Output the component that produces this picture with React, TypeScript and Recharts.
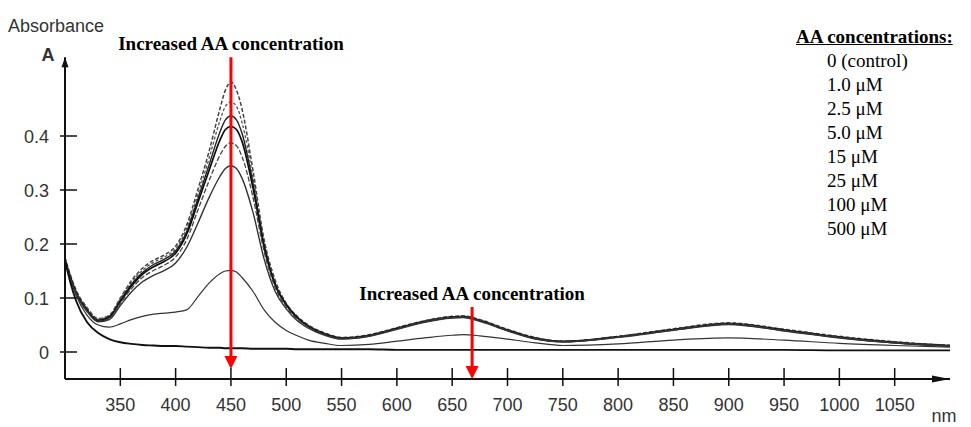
import React from "react";
import { LineChart, Line, XAxis, YAxis, ReferenceLine, Legend, Label } from "recharts";

// wavelengths (nm) shared by every spectrum
const WAVELENGTHS = [
  300, 305, 310, 320, 330, 340, 350, 360, 370, 380, 390, 400, 410, 420, 430, 440, 445, 450, 455, 460,
  470, 480, 490, 500, 510, 520, 535, 550, 575, 600, 625, 650, 660, 675, 700, 725, 750, 800, 850, 900,
  950, 1000, 1050, 1100,
];

// absorbance
const AA_0 = [
  0.175, 0.142, 0.115, 0.082, 0.062, 0.068, 0.1, 0.132, 0.155, 0.17, 0.18, 0.196, 0.235, 0.3, 0.37, 0.45, 0.485, 0.5, 0.485, 0.45,
  0.335, 0.208, 0.133, 0.09, 0.066, 0.05, 0.035, 0.027, 0.032, 0.045, 0.058, 0.066, 0.067, 0.06, 0.042, 0.027, 0.02, 0.029, 0.043, 0.054,
  0.042, 0.029, 0.019, 0.012,
];
const AA_1 = [
  0.173, 0.14, 0.113, 0.08, 0.061, 0.067, 0.098, 0.129, 0.151, 0.166, 0.176, 0.191, 0.229, 0.291, 0.357, 0.428, 0.455, 0.463, 0.455, 0.425,
  0.322, 0.202, 0.128, 0.089, 0.065, 0.049, 0.034, 0.026, 0.031, 0.044, 0.057, 0.065, 0.066, 0.059, 0.041, 0.026, 0.02, 0.029, 0.042, 0.053,
  0.041, 0.028, 0.018, 0.012,
];
const AA_2_5 = [
  0.171, 0.138, 0.111, 0.078, 0.059, 0.065, 0.095, 0.125, 0.147, 0.162, 0.172, 0.187, 0.223, 0.283, 0.345, 0.407, 0.43, 0.437, 0.43, 0.405,
  0.312, 0.198, 0.126, 0.088, 0.064, 0.048, 0.034, 0.026, 0.031, 0.044, 0.057, 0.065, 0.066, 0.059, 0.041, 0.026, 0.02, 0.028, 0.042, 0.053,
  0.041, 0.028, 0.018, 0.012,
];
const AA_5 = [
  0.17, 0.137, 0.11, 0.077, 0.058, 0.064, 0.093, 0.122, 0.144, 0.158, 0.168, 0.183, 0.218, 0.276, 0.335, 0.392, 0.412, 0.418, 0.412, 0.39,
  0.303, 0.194, 0.124, 0.087, 0.063, 0.047, 0.033, 0.025, 0.03, 0.043, 0.056, 0.064, 0.065, 0.058, 0.04, 0.025, 0.019, 0.028, 0.041, 0.052,
  0.04, 0.027, 0.017, 0.011,
];
const AA_15 = [
  0.17, 0.136, 0.109, 0.076, 0.057, 0.062, 0.09, 0.117, 0.138, 0.151, 0.161, 0.176, 0.208, 0.262, 0.316, 0.364, 0.381, 0.387, 0.382, 0.362,
  0.286, 0.186, 0.119, 0.084, 0.061, 0.046, 0.032, 0.025, 0.03, 0.043, 0.056, 0.064, 0.065, 0.058, 0.04, 0.025, 0.019, 0.028, 0.041, 0.052,
  0.04, 0.027, 0.017, 0.011,
];
const AA_25 = [
  0.169, 0.135, 0.108, 0.075, 0.056, 0.06, 0.086, 0.111, 0.13, 0.142, 0.151, 0.165, 0.194, 0.238, 0.285, 0.325, 0.34, 0.345, 0.34, 0.322,
  0.258, 0.172, 0.112, 0.08, 0.058, 0.044, 0.031, 0.024, 0.029, 0.042, 0.055, 0.063, 0.064, 0.057, 0.039, 0.024, 0.019, 0.027, 0.04, 0.051,
  0.039, 0.026, 0.017, 0.011,
];
const AA_100 = [
  0.17, 0.135, 0.105, 0.068, 0.05, 0.046, 0.052, 0.06, 0.066, 0.07, 0.072, 0.074, 0.078, 0.102, 0.127, 0.145, 0.15, 0.151, 0.148, 0.138,
  0.112, 0.078, 0.055, 0.04, 0.03, 0.022, 0.016, 0.012, 0.014, 0.02, 0.026, 0.031, 0.032, 0.03, 0.024, 0.017, 0.012, 0.015, 0.022, 0.026,
  0.022, 0.016, 0.012, 0.009,
];
const AA_500 = [
  0.17, 0.128, 0.095, 0.055, 0.035, 0.024, 0.018, 0.015, 0.013, 0.012, 0.011, 0.011, 0.01, 0.009, 0.008, 0.008, 0.007, 0.007, 0.007, 0.007,
  0.006, 0.006, 0.006, 0.006, 0.005, 0.005, 0.005, 0.005, 0.005, 0.004, 0.004, 0.004, 0.004, 0.004, 0.004, 0.004, 0.004, 0.004, 0.004, 0.004,
  0.004, 0.003, 0.003, 0.003,
];

const SERIES_NAMES = ["0 (control)", "1.0 μM", "2.5 μM", "5.0 μM", "15 μM", "25 μM", "100 μM", "500 μM"];
const SERIES_VALUES = [AA_0, AA_1, AA_2_5, AA_5, AA_15, AA_25, AA_100, AA_500];

const X_TICKS = [350, 400, 450, 500, 550, 600, 650, 700, 750, 800, 850, 900, 950, 1000, 1050];
const Y_TICKS = [0, 0.1, 0.2, 0.3, 0.4];

const ARROW_TEXT = "Increased AA concentration";
const LEGEND_TITLE = "AA concentrations:";

// line looks, same order as the series
const LINE_STYLES = [
  { stroke: "#444", width: 1.5, dash: "4 2" },
  { stroke: "#555", width: 1.3, dash: "3 2" },
  { stroke: "#222", width: 1.4, dash: undefined },
  { stroke: "#111", width: 1.7, dash: undefined },
  { stroke: "#444", width: 1.3, dash: "5 2" },
  { stroke: "#333", width: 1.4, dash: undefined },
  { stroke: "#333", width: 1.2, dash: undefined },
  { stroke: "#111", width: 1.9, dash: undefined },
];

const SANS = "'Liberation Sans', Arial, sans-serif";
const SERIF = "'Liberation Serif', 'Times New Roman', serif";

const data = WAVELENGTHS.map((nm, i) => {
  const row: Record<string, number> = { nm };
  SERIES_VALUES.forEach((vals, s) => {
    row[`s${s}`] = vals[i];
  });
  return row;
});

function arrowHead(x1: number, y1: number, x2: number, y2: number, len: number, half: number) {
  const dx = x2 - x1;
  const dy = y2 - y1;
  const d = Math.hypot(dx, dy) || 1;
  const ux = dx / d;
  const uy = dy / d;
  const bx = x2 - ux * len;
  const by = y2 - uy * len;
  return `${x2},${y2} ${bx - uy * half},${by + ux * half} ${bx + uy * half},${by - ux * half}`;
}

const AxisArrow = (p: any) => (
  <g>
    <line x1={p.x1} y1={p.y1} x2={p.x2} y2={p.y2} stroke="#111" strokeWidth={2} />
    <polygon points={arrowHead(p.x1, p.y1, p.x2, p.y2, p.len, p.half)} fill="#111" />
  </g>
);

const RedArrow = (p: any) => (
  <g>
    <line x1={p.x1} y1={p.y1} x2={p.x2} y2={p.y2 - 10} stroke="#ff0000" strokeWidth={3} />
    <polygon points={arrowHead(p.x1, p.y1, p.x2, p.y2, 13, 6.5)} fill="#ff0000" />
    <text
      x={p.x1}
      y={p.y1 - 7}
      textAnchor="middle"
      fontFamily={SERIF}
      fontWeight="bold"
      fontSize={19}
      fill="#000"
    >
      {ARROW_TEXT}
    </text>
  </g>
);

const XTick = ({ x, y, payload }: any) => (
  <g>
    <line x1={x} y1={y - 11} x2={x} y2={y + 7} stroke="#111" strokeWidth={1.5} />
    <text x={x} y={y + 32} textAnchor="middle" fontFamily={SANS} fontSize={18} fill="#333">
      {payload.value}
    </text>
  </g>
);

const YTick = ({ x, y, payload }: any) => (
  <g>
    <line x1={x - 5} y1={y} x2={x + 12} y2={y} stroke="#111" strokeWidth={1.5} />
    <text x={x - 16} y={y + 6.5} textAnchor="end" fontFamily={SANS} fontSize={18} fill="#333">
      {payload.value === 0 ? "0" : payload.value.toFixed(1)}
    </text>
  </g>
);

const LegendList = ({ payload }: any) => (
  <div style={{ fontFamily: SERIF, fontSize: 19, color: "#000", textAlign: "left" }}>
    <div style={{ fontWeight: "bold", textDecoration: "underline", lineHeight: "24px" }}>{LEGEND_TITLE}</div>
    {(payload || []).map((item: any) => (
      <div key={item.value} style={{ paddingLeft: 31, lineHeight: "24px" }}>
        {item.value}
      </div>
    ))}
  </div>
);

export default function App() {
  return (
    <div style={{ position: "absolute", left: 0, top: 0, background: "#fff" }}>
      <LineChart width={971} height={427} data={data} margin={{ top: 55, right: 21, left: 0, bottom: 0 }}>
        <XAxis
          dataKey="nm"
          type="number"
          domain={[300, 1100]}
          allowDataOverflow
          ticks={X_TICKS}
          interval={0}
          height={48}
          axisLine={false}
          tickLine={false}
          tickSize={0}
          tickMargin={0}
          tick={<XTick />}
        >
          <Label
            content={({ viewBox }: any) => (
              <text x={viewBox.x + viewBox.width - 6} y={viewBox.y + 43} textAnchor="middle" fontFamily={SANS} fontSize={18} fill="#333">
                nm
              </text>
            )}
          />
        </XAxis>
        <YAxis
          type="number"
          domain={[-0.05, 0.55]}
          allowDataOverflow
          ticks={Y_TICKS}
          interval={0}
          width={65}
          axisLine={false}
          tickLine={false}
          tickSize={0}
          tickMargin={0}
          tick={<YTick />}
        >
          <Label
            content={({ viewBox }: any) => (
              <g>
                <text x={56} y={viewBox.y - 23} textAnchor="middle" fontFamily={SANS} fontSize={18} fill="#333">
                  Absorbance
                </text>
                <text x={48} y={viewBox.y + 6} textAnchor="middle" fontFamily={SANS} fontSize={18} fontWeight="bold" fill="#333">
                  A
                </text>
              </g>
            )}
          />
        </YAxis>
        <Legend
          layout="horizontal"
          verticalAlign="middle"
          align="center"
          itemSorter="dataKey"
          content={<LegendList />}
          wrapperStyle={{ position: "absolute", left: 796, top: 25, width: 175 }}
        />
        {SERIES_NAMES.map((name, s) => (
          <Line
            key={name}
            dataKey={`s${s}`}
            name={name}
            type="monotone"
            stroke={LINE_STYLES[s].stroke}
            strokeWidth={LINE_STYLES[s].width}
            strokeDasharray={LINE_STYLES[s].dash}
            dot={false}
            activeDot={false}
            isAnimationActive={false}
          />
        ))}
        <ReferenceLine
          segment={[{ x: 300, y: -0.05 }, { x: 300, y: 0.546 }]}
          ifOverflow="visible"
          shape={(p: any) => <AxisArrow {...p} len={10} half={3.5} />}
        />
        <ReferenceLine
          segment={[{ x: 300, y: -0.05 }, { x: 1100, y: -0.05 }]}
          ifOverflow="visible"
          shape={(p: any) => <AxisArrow {...p} len={18} half={3.5} />}
        />
        <ReferenceLine
          segment={[{ x: 450, y: 0.546 }, { x: 450, y: -0.0315 }]}
          ifOverflow="visible"
          shape={(p: any) => <RedArrow {...p} />}
        />
        <ReferenceLine
          segment={[{ x: 668, y: 0.0833 }, { x: 668, y: -0.05 }]}
          ifOverflow="visible"
          shape={(p: any) => <RedArrow {...p} />}
        />
      </LineChart>
    </div>
  );
}
